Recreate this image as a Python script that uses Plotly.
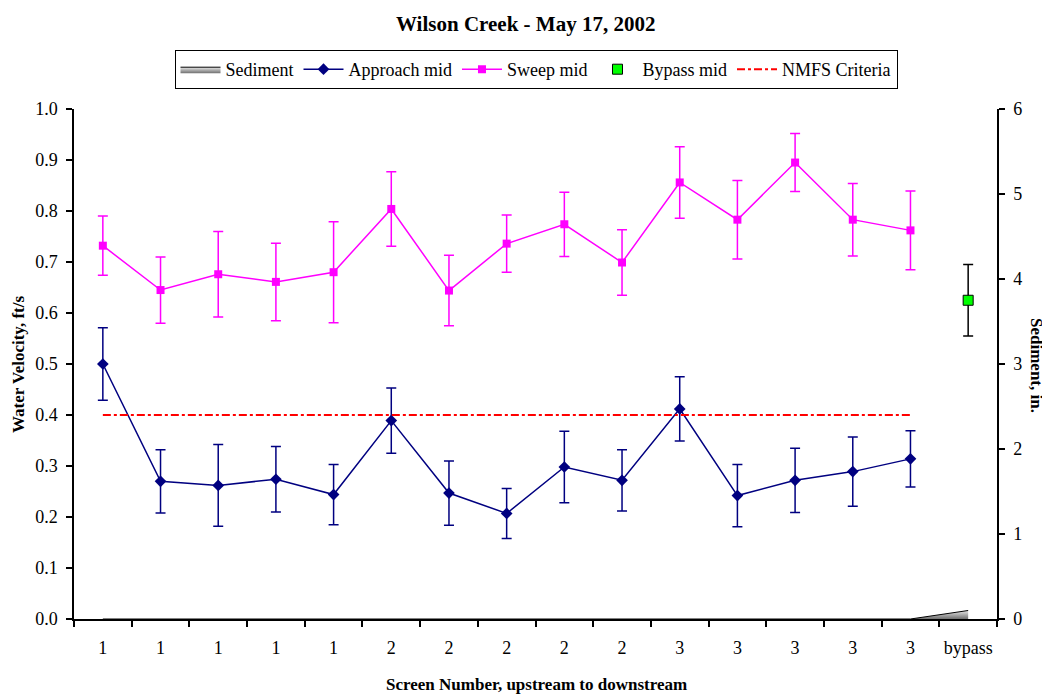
import plotly.graph_objects as go

# ---- data ----
tick_labels = ["1", "1", "1", "1", "1", "2", "2", "2", "2", "2",
               "3", "3", "3", "3", "3", "bypass"]
approach = [0.500, 0.270, 0.262, 0.274, 0.244, 0.389, 0.247, 0.207,
            0.298, 0.272, 0.412, 0.242, 0.272, 0.289, 0.314]
approach_err = [0.071, 0.062, 0.080, 0.064, 0.059, 0.064, 0.063, 0.049,
                0.070, 0.060, 0.063, 0.061, 0.063, 0.068, 0.055]
sweep = [0.732, 0.645, 0.676, 0.661, 0.680, 0.804, 0.644, 0.736,
         0.774, 0.699, 0.856, 0.783, 0.895, 0.783, 0.762]
sweep_err = [0.058, 0.065, 0.084, 0.076, 0.099, 0.073, 0.069, 0.056,
             0.063, 0.064, 0.070, 0.077, 0.057, 0.071, 0.077]
bypass_val = [0.625]
bypass_err = [0.070]
sediment = [0, 0, 0, 0, 0, 0, 0, 0, 0, 0, 0, 0, 0, 0, 0, 0.1]
nmfs = [0.4] * 15

n_screens = len(approach)
x_screens = list(range(n_screens))
x_all = list(range(len(tick_labels)))

FONT = "Liberation Serif, Times New Roman, serif"

# page offset of the figure (body margin)
OFF = 8
W, H = 1050, 698
L, R, T, B = 74 - OFF, W - 997 + OFF, 109 - OFF, H - 619 + OFF
plot_w = W - L - R
plot_h = H - T - B


def px_x(page_x):
    return (page_x - OFF - L) / plot_w


def px_y(page_y):
    return (H - B - (page_y - OFF)) / plot_h


fig = go.Figure()

fig.add_trace(go.Scatter(
    x=x_all, y=sediment, name="Sediment", yaxis="y2",
    mode="lines", line=dict(color="black", width=1),
    fill="tozeroy",
    fillgradient=dict(type="vertical",
                      colorscale=[[0, "#707070"], [1, "#E8E8E8"]]),
))
fig.add_trace(go.Scatter(
    x=x_screens, y=approach, name="Approach mid", mode="lines+markers",
    line=dict(color="#000080", width=1.5),
    marker=dict(symbol="diamond", size=9, color="#000080"),
    error_y=dict(type="data", array=approach_err, color="#000080",
                 thickness=1.5, width=5),
))
fig.add_trace(go.Scatter(
    x=x_screens, y=sweep, name="Sweep mid", mode="lines+markers",
    line=dict(color="#FF00FF", width=1.5),
    marker=dict(symbol="square", size=8, color="#FF00FF"),
    error_y=dict(type="data", array=sweep_err, color="#FF00FF",
                 thickness=1.5, width=5),
))
fig.add_trace(go.Scatter(
    x=[x_all[-1]], y=bypass_val, name="Bypass mid", mode="markers",
    marker=dict(symbol="square", size=10, color="#00FF00",
                line=dict(color="black", width=1)),
    error_y=dict(type="data", array=bypass_err, color="black",
                 thickness=1.5, width=5),
))
fig.add_trace(go.Scatter(
    x=x_screens, y=nmfs, name="NMFS Criteria", mode="lines",
    line=dict(color="#FF0000", width=2, dash="8px,3px,3px,3px"),
))

fig.update_layout(
    width=W, height=H,
    margin=dict(l=L, r=R, t=T, b=B),
    paper_bgcolor="white", plot_bgcolor="white",
    font=dict(family=FONT, size=17, color="black"),
    showlegend=True,
    legend=dict(orientation="h", x=px_x(536), xanchor="center",
                y=px_y(50), yanchor="top",
                bordercolor="black", borderwidth=1,
                font=dict(family=FONT, size=18, color="black"),
                itemwidth=40, tracegroupgap=0),
    xaxis=dict(range=[-0.5, len(tick_labels) - 0.5],
               tickmode="array", tickvals=x_all, ticktext=tick_labels,
               ticks="outside", ticklen=12, tickcolor="rgba(0,0,0,0)",
               showline=True, linecolor="black", linewidth=1.5,
               showgrid=False, zeroline=False,
               tickfont=dict(family=FONT, size=18),
               minor=dict(tickmode="array",
                          tickvals=[i - 0.5 for i in range(len(tick_labels) + 1)],
                          ticks="outside", ticklen=6, tickcolor="black",
                          tickwidth=1.5, showgrid=False)),
    yaxis=dict(range=[0, 1.0], dtick=0.1, tickformat=".1f",
               ticks="outside", ticklen=6, tickwidth=1.5, tickcolor="black",
               showline=True, linecolor="black", linewidth=1.5,
               showgrid=False, zeroline=False, ticklabelstandoff=5,
               tickfont=dict(family=FONT, size=18)),
    yaxis2=dict(range=[0, 6], dtick=1, overlaying="y", side="right",
                ticks="outside", ticklen=6, tickwidth=1.5, tickcolor="black",
                showline=True, linecolor="black", linewidth=1.5,
                showgrid=False, zeroline=False, ticklabelstandoff=5,
                tickfont=dict(family=FONT, size=18)),
    annotations=[
        dict(text="<b>Wilson Creek - May 17, 2002</b>",
             x=px_x(525), xref="paper", y=px_y(OFF + 2), yref="paper",
             xanchor="center", yanchor="top",
             showarrow=False, font=dict(family=FONT, size=21)),
        dict(text="<b>Water Velocity, ft/s</b>", textangle=-90,
             x=px_x(18), xref="paper", y=px_y(365), yref="paper",
             xanchor="center", yanchor="middle",
             showarrow=False, font=dict(family=FONT, size=17)),
        dict(text="<b>Sediment, in.</b>", textangle=90,
             x=px_x(1037), xref="paper", y=px_y(365), yref="paper",
             xanchor="center", yanchor="middle",
             showarrow=False, font=dict(family=FONT, size=17)),
        dict(text="<b>Screen Number, upstream to downstream</b>",
             x=px_x(536), xref="paper", y=px_y(684), yref="paper",
             xanchor="center", yanchor="middle",
             showarrow=False, font=dict(family=FONT, size=17)),
    ],
)

fig.write_html("out.html")
